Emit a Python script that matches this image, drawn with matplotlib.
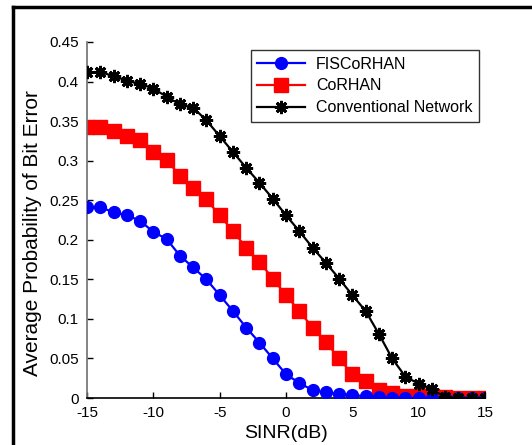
import matplotlib
matplotlib.use("Agg")
import matplotlib.pyplot as plt
from matplotlib.lines import Line2D

plt.rcParams['font.family'] = ['Liberation Sans', 'DejaVu Sans']

sinr = list(range(-15, 16))
fiscorhan = [0.241, 0.241, 0.235, 0.231, 0.224, 0.210, 0.201, 0.180, 0.165, 0.150,
             0.130, 0.110, 0.089, 0.070, 0.050, 0.030, 0.019, 0.010, 0.007, 0.005,
             0.004, 0.002, 0.001, 0.0, 0.0, 0.0, 0.0, 0.0, 0.0, 0.0, 0.0]
corhan = [0.342, 0.342, 0.337, 0.331, 0.326, 0.311, 0.301, 0.281, 0.266, 0.251,
          0.231, 0.211, 0.190, 0.172, 0.151, 0.130, 0.110, 0.089, 0.071, 0.050,
          0.030, 0.021, 0.010, 0.006, 0.0025, 0.0025, 0.002, 0.001, 0.0, 0.0, 0.0]
conventional = [0.412, 0.412, 0.407, 0.401, 0.397, 0.391, 0.381, 0.371, 0.367, 0.351,
                0.331, 0.311, 0.291, 0.272, 0.252, 0.231, 0.211, 0.190, 0.171, 0.151,
                0.130, 0.110, 0.081, 0.050, 0.027, 0.018, 0.011, 0.001, 0.0, 0.0, 0.0]
labels = ["FISCoRHAN", "CoRHAN", "Conventional Network"]
xticks = [-15, -10, -5, 0, 5, 10, 15]
yticks = [0, 0.05, 0.1, 0.15, 0.2, 0.25, 0.3, 0.35, 0.4, 0.45]

W, H = 532, 445
fig = plt.figure(figsize=(W / 100, H / 100), dpi=100)
ax = fig.add_axes([87 / W, 1 - 398 / H, (485 - 87) / W, (398 - 42) / H])

ax.plot(sinr, fiscorhan, color='#0000ff', lw=1.6, marker='o', ms=8.5,
        mec='#0000ff', mfc='#0000ff', label=labels[0], zorder=3)
ax.plot(sinr, corhan, color='#ff0000', lw=1.6, marker='s', ms=9.5,
        mec='#ff0000', mfc='#ff0000', label=labels[1], zorder=2)
ax.plot(sinr, conventional, color='black', lw=1.6, marker=(8, 2, 0), ms=9.5,
        mew=2.0, mec='black', label=labels[2], zorder=4)

ax.set_xlim(-15, 15)
ax.set_ylim(0, 0.45)
ax.set_xticks(xticks)
ax.set_xticklabels([str(v) for v in xticks])
ax.set_yticks(yticks)
ax.set_yticklabels(['0'] + [('%g' % v) for v in yticks[1:]])
ax.tick_params(direction='in', length=4, labelsize=11, width=1)
ax.tick_params(axis='y', pad=6)
ax.tick_params(axis='x', pad=6)
ax.spines['top'].set_visible(False)
ax.spines['right'].set_visible(False)
ax.spines['left'].set_color('#707070')
ax.spines['left'].set_linewidth(1.2)
ax.spines['bottom'].set_linewidth(1.2)
ax.set_xlabel('SINR(dB)', fontsize=14, labelpad=3)
ax.set_ylabel('Average Probability of Bit Error', fontsize=15)
ax.yaxis.set_label_coords(-0.112, 0.463)

leg = ax.legend(loc='upper right', bbox_to_anchor=(479 / W, 1 - 50 / H),
                bbox_transform=fig.transFigure, fontsize=11.5, frameon=True,
                fancybox=False, borderpad=0.42, handlelength=3.0,
                labelspacing=0.42, handletextpad=0.65, borderaxespad=0)
leg.get_frame().set_edgecolor('black')
leg.get_frame().set_linewidth(1.0)

# outer frame (top and left edges of the cropped border)
fig.add_artist(Line2D([13 / W, 1], [1 - 7 / H, 1 - 7 / H], color='black', lw=2.5,
                      transform=fig.transFigure))
fig.add_artist(Line2D([13 / W, 13 / W], [0, 1 - 7 / H], color='black', lw=2.5,
                      transform=fig.transFigure))

fig.savefig('out.png', dpi=100)
